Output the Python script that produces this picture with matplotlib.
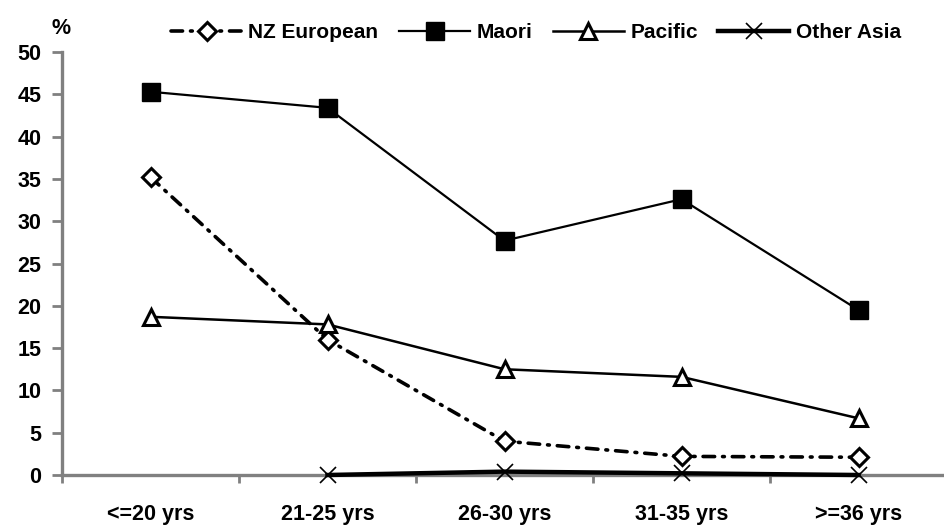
import numpy as np
import matplotlib
matplotlib.use("Agg")
from matplotlib import pyplot as plt

categories = ["<=20 yrs", "21-25 yrs", "26-30 yrs", "31-35 yrs", ">=36 yrs"]
nz_european = [35.2, 16.0, 4.0, 2.2, 2.1]
maori = [45.3, 43.4, 27.7, 32.6, 19.5]
pacific = [18.7, 17.8, 12.5, 11.6, 6.7]
other_asia = [np.nan, 0.0, 0.4, 0.2, 0.0]

plt.rcParams['font.family'] = ['Liberation Sans', 'DejaVu Sans']
plt.rcParams['font.weight'] = 'bold'

fig = plt.figure(figsize=(9.44, 5.26), dpi=100)
ax = fig.add_axes([62 / 944, 51 / 526, 885 / 944, 423 / 526])

x = np.arange(len(categories))

ax.plot(x, nz_european, color='black', lw=2.6, dashes=(3.2, 2.2, 0.5, 2.2),
        dash_capstyle='round', marker='D', markersize=9, markerfacecolor='white',
        markeredgecolor='black', markeredgewidth=2.2, label='NZ European', zorder=3)
ax.plot(x, maori, color='black', lw=1.6, marker='s', markersize=13,
        markerfacecolor='black', markeredgecolor='black', label='Maori', zorder=4)
ax.plot(x, pacific, color='black', lw=1.8, marker='^', markersize=11,
        markerfacecolor='white', markeredgecolor='black', markeredgewidth=2.2,
        label='Pacific', zorder=4)
ax.plot(x, other_asia, color='black', lw=3.2, marker='x', markersize=11,
        markeredgewidth=1.2, label='Other Asia', zorder=3, clip_on=False)

ax.set_xlim(-0.5, len(categories) - 0.5)
ax.set_ylim(0, 50)
ax.set_yticks(np.arange(0, 51, 5))
ax.set_xticks(x)
ax.set_xticklabels(categories, fontsize=15.5, fontweight='bold')
ax.set_xticks(np.arange(-0.5, len(categories), 1), minor=True)
ax.tick_params(axis='x', which='major', length=0, pad=21)
ax.tick_params(axis='x', which='minor', length=6, width=2, color='#808080', direction='out')
ax.tick_params(axis='y', length=7, width=2, color='#808080', direction='out', labelsize=15.5, pad=8)
for lab in ax.get_yticklabels():
    lab.set_fontweight('bold')

for side in ['top', 'right']:
    ax.spines[side].set_visible(False)
for side in ['left', 'bottom']:
    ax.spines[side].set_color('#808080')
    ax.spines[side].set_linewidth(2.4)

fig.text(52 / 944, 1 - 28 / 526, '%', fontsize=15.5, fontweight='bold', ha='left', va='center')

leg = fig.legend(loc='center', bbox_to_anchor=(536 / 944, 1 - 33 / 526), ncol=4, frameon=False,
                 fontsize=15, handlelength=3.4, columnspacing=1.0, handletextpad=0.3,
                 borderaxespad=0, borderpad=0)
for t in leg.get_texts():
    t.set_fontweight('bold')

plt.savefig('out.png', dpi=100)
